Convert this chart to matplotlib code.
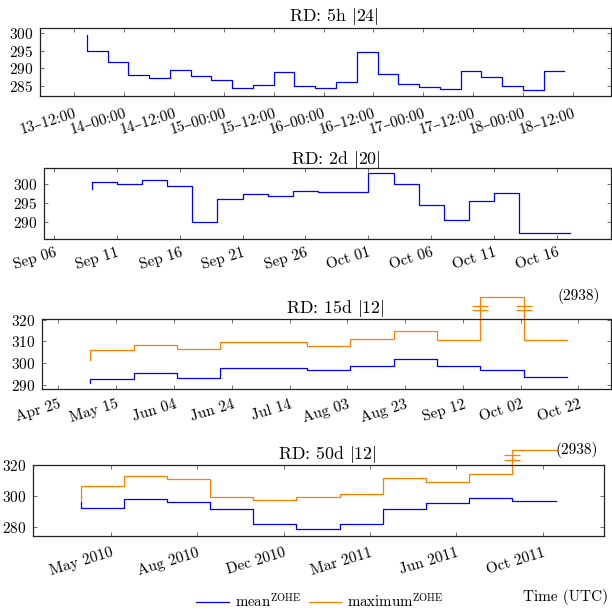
import numpy as np
import pandas as pd
import matplotlib
matplotlib.use("Agg")
import matplotlib.pyplot as plt
import matplotlib.dates as mdates
from matplotlib.lines import Line2D

plt.rcParams['font.family'] = ['cmr10', 'DejaVu Serif']
plt.rcParams['mathtext.fontset'] = 'cm'
plt.rcParams['axes.formatter.use_mathtext'] = True
plt.rcParams['font.size'] = 11

BLUE = '#0000ff'
ORANGE = '#ff8000'

# --- data ---
# RD 5h, 24 windows
t_5h = pd.date_range('2011-10-13 15:00', periods=24, freq='5h')
mean_5h = [299.4, 295.0, 291.8, 288.3, 287.4, 289.7, 288.0, 286.7, 284.6, 285.5,
           289.0, 285.2, 284.4, 286.3, 294.6, 288.4, 285.7, 284.7, 284.3, 289.2,
           287.7, 285.2, 283.9, 289.4]

# RD 2d, 20 windows
t_2d = pd.date_range('2011-09-09', periods=20, freq='2D')
mean_2d = [298.7, 300.4, 299.9, 301.1, 299.4, 290.1, 296.0, 297.4, 296.8, 298.1,
           297.9, 297.9, 302.8, 299.9, 294.4, 290.4, 295.4, 297.6, 287.1, 287.2]

# RD 15d, 12 windows
t_15d = pd.date_range('2011-05-06', periods=12, freq='15D')
mean_15d = [290.6, 292.7, 295.6, 293.2, 297.9, 297.5, 296.7, 298.8, 302.0, 298.6,
            296.8, 293.6]
max_15d = [301.6, 306.1, 308.4, 306.4, 309.6, 309.9, 307.8, 310.9, 314.8, 310.6,
           2938, 310.4]

# RD 50d, 12 windows
t_50d = pd.date_range('2010-04-16', periods=12, freq='50D')
mean_50d = [296.6, 292.4, 298.5, 296.6, 291.5, 282.2, 278.8, 282.2, 291.9, 295.7,
            298.7, 296.8]
max_50d = [296.8, 306.5, 313.2, 311.3, 299.4, 297.7, 299.2, 301.3, 311.6, 309.4,
           314.5, 2938]

W, H = 612, 610
fig = plt.figure(figsize=(W / 100, H / 100), dpi=100)


def make_axes(left, right, top, bottom):
    return fig.add_axes([left / W, 1 - bottom / H, (right - left) / W, (bottom - top) / H])


def style(ax, ylim, yticks, xlim, xticks, fmt, title, title_pad, ypad, xpad):
    ax.set_ylim(*ylim)
    ax.set_yticks(yticks)
    ax.set_xlim(pd.Timestamp(xlim[0]), pd.Timestamp(xlim[1]))
    ax.set_xticks(xticks)
    ax.xaxis.set_major_formatter(mdates.DateFormatter(fmt))
    ax.tick_params(direction='in', top=True, right=True, length=3, width=0.6,
                   color='#555555', labelsize=11)
    ax.tick_params(axis='y', pad=ypad)
    ax.tick_params(axis='x', pad=xpad)
    for lab in ax.get_xticklabels():
        lab.set_rotation(17)
        lab.set_ha('right')
        lab.set_va('top')
        lab.set_rotation_mode('anchor')
    for s in ax.spines.values():
        s.set_linewidth(0.9)
        s.set_color('#222222')
    ax.set_title(title, x=0.515, pad=title_pad, fontsize=12.8)


def capped_max(ax, t, vals, cap, marks, label_xy, label_ha):
    vals = np.asarray(vals, dtype=float)
    shown = np.minimum(vals, cap)
    ax.step(t, shown, where='pre', color=ORANGE, lw=0.9, clip_on=False)
    for i in np.where(vals > cap)[0]:
        xs = [t[i - 1]]
        if i + 1 < len(t):
            xs.append(t[i])
        for x in xs:
            ax.plot([x, x], marks, ls='none', marker='_', ms=11.5, mew=0.9,
                    color=ORANGE, clip_on=False)
        ax.text(label_xy[0], label_xy[1], f'({int(vals[i])})', ha=label_ha,
                va='center', fontsize=11, clip_on=False)


# panel 1
ax1 = make_axes(40, 611, 28, 96)
ax1.step(t_5h, mean_5h, where='pre', color=BLUE, lw=0.9)
style(ax1, (282.3, 301.3), [285, 290, 295, 300],
      ('2011-10-13 03:44', '2011-10-18 21:12'),
      pd.date_range('2011-10-13 12:00', '2011-10-18 12:00', freq='12h'),
      '%d–%H:%M', 'RD: 5h $|24|$', 5, 5, 8)

# panel 2
ax2 = make_axes(44, 611, 168, 239)
ax2.step(t_2d, mean_2d, where='pre', color=BLUE, lw=0.9)
style(ax2, (285.5, 304.2), [290, 295, 300],
      ('2011-09-05 05:00', '2011-10-20 07:00'),
      pd.date_range('2011-09-06', '2011-10-16', freq='5D'),
      '%b %d', 'RD: 2d $|20|$', 3, 5, 5)

# panel 3
ax3 = make_axes(42, 611, 319, 389)
ax3.step(t_15d, mean_15d, where='pre', color=BLUE, lw=0.9)
capped_max(ax3, t_15d, max_15d, 330.5, [324.4, 326.4],
           (pd.Timestamp('2011-10-22'), 330.8), 'center')
style(ax3, (288.0, 320.3), [290, 300, 310, 320],
      ('2011-04-19 07:00', '2011-11-02 07:00'),
      pd.date_range('2011-04-25', periods=10, freq='20D'),
      '%b %d', 'RD: 15d $|12|$', 4, 5, 6)

# panel 4
ax4 = make_axes(33, 604, 465, 536)
ax4.step(t_50d, mean_50d, where='pre', color=BLUE, lw=0.9)
capped_max(ax4, t_50d, max_50d, 329.7, [323.4, 326.4],
           (t_50d[-1], 329.7), 'left')
style(ax4, (274.5, 320), [280, 300, 320],
      ('2010-02-20', '2011-12-13'),
      pd.date_range('2010-05-21', periods=6, freq='100D'),
      '%b %Y', 'RD: 50d $|12|$', 4, 5, 7)

handles = [Line2D([], [], color=BLUE, lw=0.9), Line2D([], [], color=ORANGE, lw=0.9)]
fig.legend(handles, [r'mean$^{\mathrm{ZOHE}}$', r'maximum$^{\mathrm{ZOHE}}$'],
           loc='center', bbox_to_anchor=(320 / W, 1 - 601 / H), ncol=2,
           frameon=False, handlelength=2.2, handletextpad=0.4, columnspacing=0.5,
           fontsize=10.7)
fig.text(608 / W, 1 - 597 / H, 'Time (UTC)', ha='right', va='center', fontsize=11)

fig.savefig('out.png', dpi=100)
